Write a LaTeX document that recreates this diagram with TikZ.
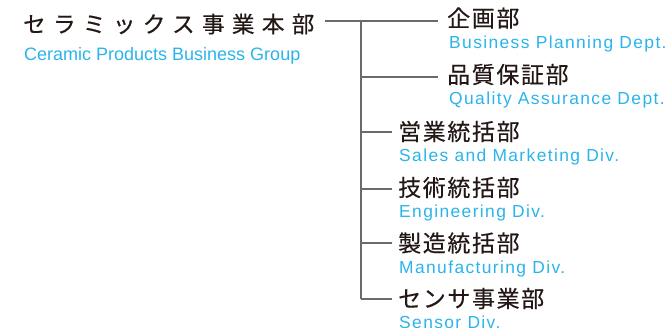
\documentclass[tikz,border=0pt]{standalone}
\usepackage{fontspec}
\setmainfont{Liberation Sans}
\newfontfamily\jptitle[LetterSpace=33,FakeBold=0.6]{Noto Sans CJK JP}
\newfontfamily\jpsub[LetterSpace=7,FakeBold=0.3]{Noto Sans CJK JP}
\newfontfamily\ensub[LetterSpace=8]{Liberation Sans}
\definecolor{blueT}{HTML}{2AB4EA}
\definecolor{darkT}{HTML}{231815}
\definecolor{lineC}{HTML}{6A6A6A}
\begin{document}
\begin{tikzpicture}[x=1pt,y=-1pt,
  ttl/.style={inner sep=0pt,anchor=west,text=darkT,font=\jptitle\fontsize{22.5}{22.5}\selectfont},
  ttlen/.style={inner sep=0pt,anchor=base west,text=blueT,font=\fontsize{18}{18}\selectfont},
  jp/.style={inner sep=0pt,anchor=west,text=darkT,font=\jpsub\fontsize{23}{23}\selectfont},
  en/.style={inner sep=0pt,anchor=base west,text=blueT,font=\ensub\fontsize{17.4}{17.4}\selectfont},
  ln/.style={draw=lineC,line width=1.2pt}]
\useasboundingbox (0,0) rectangle (672,327);
\node[ttl] (title) at (23,24) {セラミックス事業本部};
\node[ttlen] (titleen) at (24,60) {Ceramic Products Business Group};
% upper departments
\node[jp] (b1) at (447,18) {企画部};
\node[en] (e1) at (449,48) {Business Planning Dept.};
\node[jp] (b2) at (447,74.5) {品質保証部};
\node[en] (e2) at (449,104.5) {Quality Assurance Dept.};
% divisions
\node[jp] (b3) at (398,131.5) {営業統括部};
\node[en] (e3) at (399,161.5) {Sales and Marketing Div.};
\node[jp] (b4) at (398,187.5) {技術統括部};
\node[en] (e4) at (399,217.5) {Engineering Div.};
\node[jp] (b5) at (398,243) {製造統括部};
\node[en] (e5) at (399,273) {Manufacturing Div.};
\node[jp] (b6) at (398,298.5) {センサ事業部};
\node[en] (e6) at (399,328.5) {Sensor Div.};
% connectors
\coordinate (t0) at (325,21);
\coordinate (k1) at (361,21);
\coordinate (k2) at (361,77);
\coordinate (k3) at (361,132);
\coordinate (k4) at (361,189);
\coordinate (k5) at (361,243);
\coordinate (k6) at (361,299);
\draw[ln] (t0) -- ([xshift=-9pt]b1.west |- t0);
\draw[ln] (k1) -- (k6);
\draw[ln] (k2) -- ([xshift=-9pt]b2.west |- k2);
\draw[ln] (k3) -- ([xshift=-6pt]b3.west |- k3);
\draw[ln] (k4) -- ([xshift=-6pt]b4.west |- k4);
\draw[ln] (k5) -- ([xshift=-6pt]b5.west |- k5);
\draw[ln] (k6) -- ([xshift=-6pt]b6.west |- k6);
\end{tikzpicture}
\end{document}
